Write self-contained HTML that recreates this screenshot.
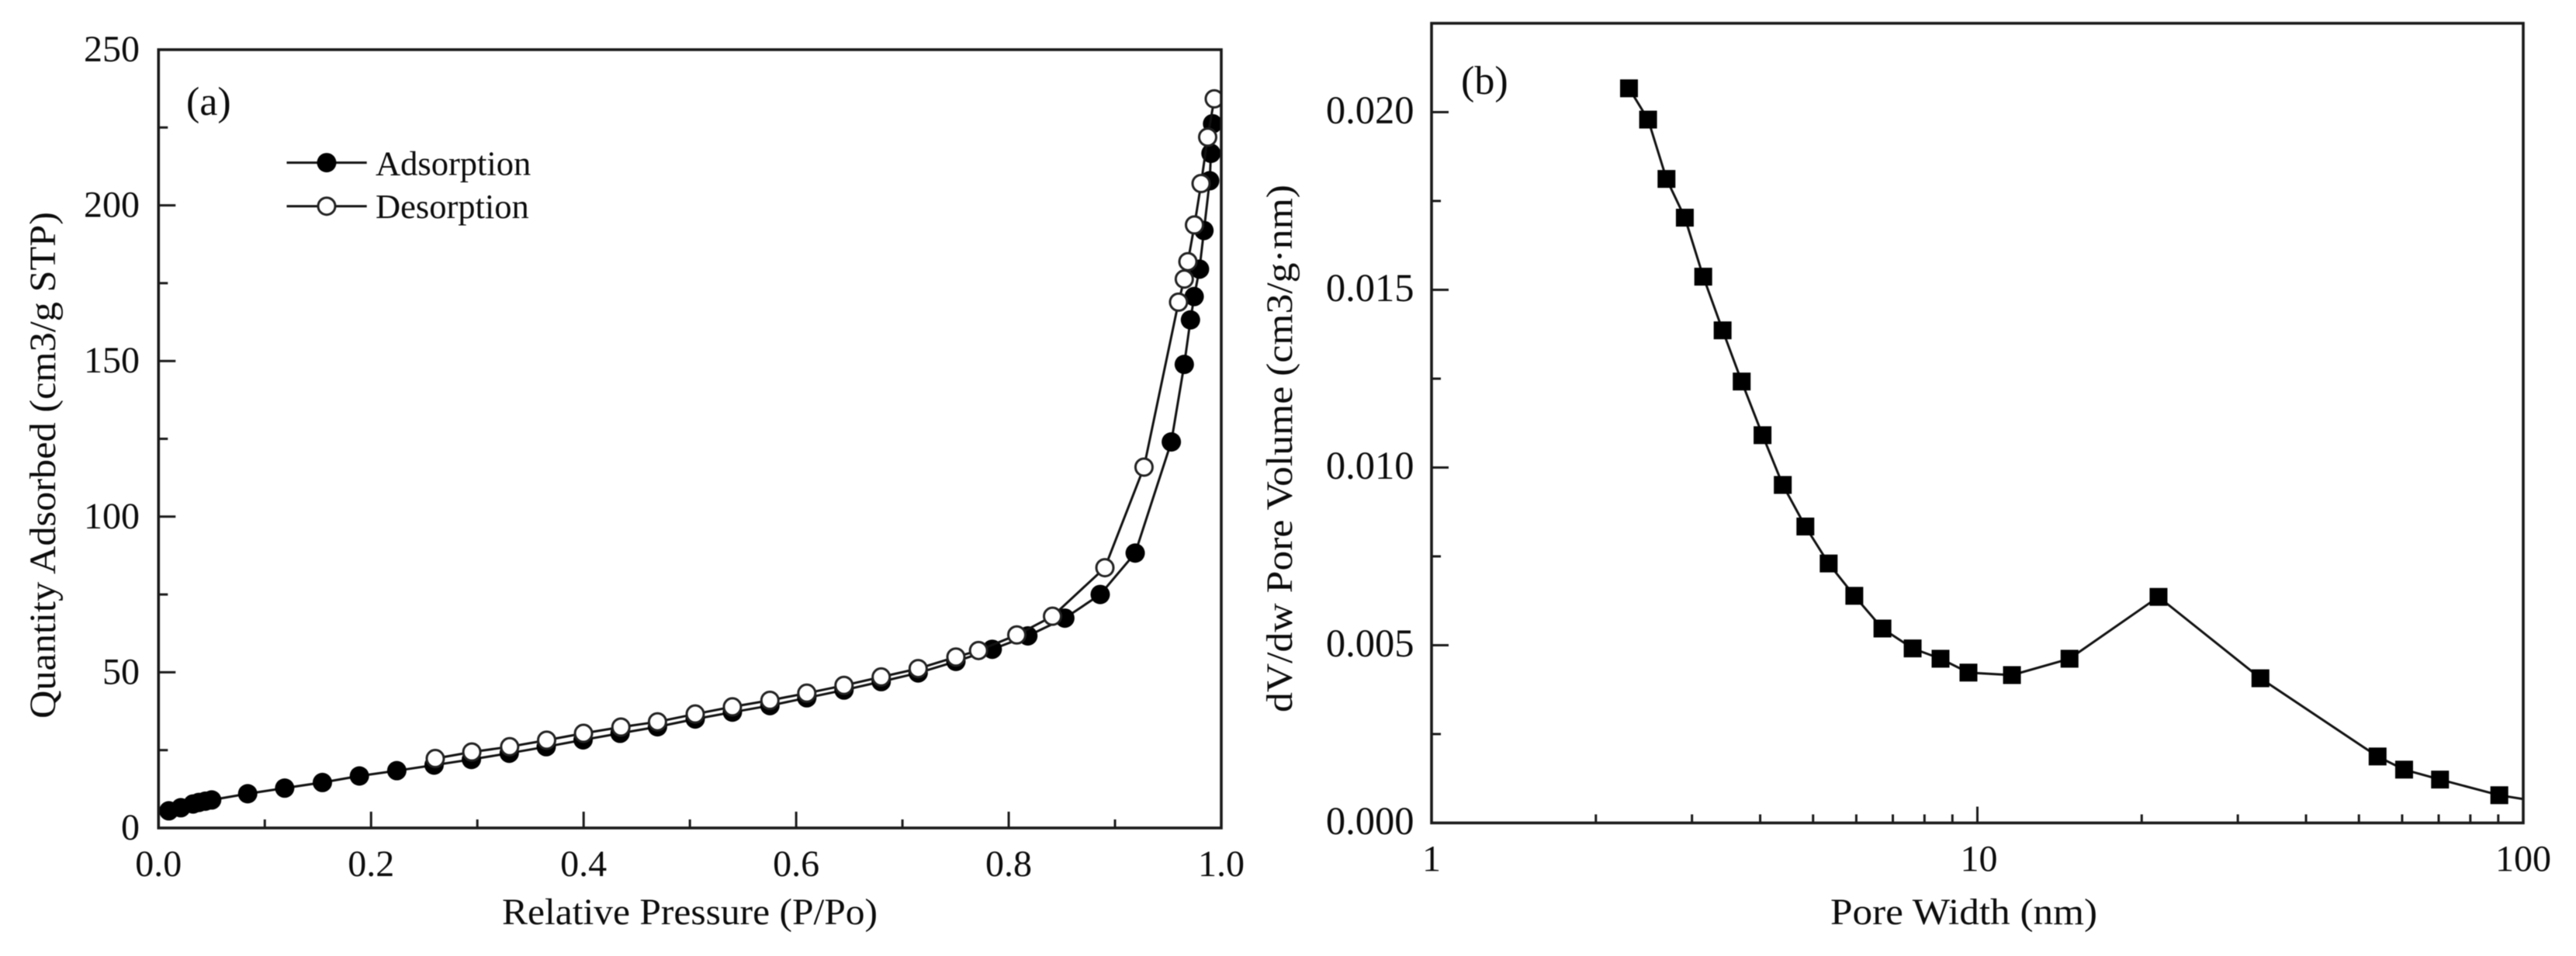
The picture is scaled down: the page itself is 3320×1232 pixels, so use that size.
<!DOCTYPE html>
<html lang="en">
<head>
<meta charset="utf-8">
<title>Isotherm and pore size distribution</title>
<style>
  html, body { margin: 0; padding: 0; background: #fff; }
  svg { display: block; filter: blur(0.6px); }
  text { font-family: "Liberation Serif", serif; fill: #0c0c0c; }
</style>
</head>
<body>
<svg id="fig" xmlns="http://www.w3.org/2000/svg" width="3320" height="1232" viewBox="0 0 3320 1232">
  <defs>
    <clipPath id="clip-a"><rect x="204" y="64" width="1370" height="1003"></rect></clipPath>
    <clipPath id="clip-b"><rect x="1845" y="30" width="1407" height="1031"></rect></clipPath>
  </defs>
  <rect x="0" y="0" width="3320" height="1232" fill="#fff"></rect>

  <g id="panel-a">
    <g id="a-series" clip-path="url(#clip-a)"></g>
    <rect x="204.3" y="64" width="1369.7" height="1003" fill="none" stroke="#1a1a1a" stroke-width="3.6"></rect>
    <g id="a-ticks"></g>
    <text x="240" y="148" font-size="52">(a)</text>
    <text x="889" y="1191" font-size="48" text-anchor="middle" textLength="484" lengthAdjust="spacingAndGlyphs">Relative Pressure (P/Po)</text>
    <text transform="translate(71,599.5) rotate(-90)" font-size="48" text-anchor="middle" textLength="653" lengthAdjust="spacingAndGlyphs">Quantity Adsorbed (cm3/g STP)</text>
    <g>
      <g>
        <line x1="369.5" y1="209.6" x2="472.7" y2="209.6" stroke="#111" stroke-width="3"></line>
        <circle cx="421" cy="209.6" r="12.5" fill="#000"></circle>
        <text x="484" y="225.5" font-size="44.5">Adsorption</text>
      </g>
      <g>
        <line x1="369.5" y1="265.7" x2="472.7" y2="265.7" stroke="#111" stroke-width="3"></line>
        <circle cx="421" cy="265.7" r="11" fill="#fff" stroke="#222" stroke-width="3"></circle>
        <text x="484" y="281" font-size="44.5">Desorption</text>
      </g>
    </g>
  </g>

  <g id="panel-b">
    <g id="b-series" clip-path="url(#clip-b)"></g>
    <rect x="1845" y="30" width="1407" height="1030.5" fill="none" stroke="#1a1a1a" stroke-width="3.6"></rect>
    <g id="b-ticks"></g>
    <text x="1883" y="121" font-size="52">(b)</text>
    <text x="2531" y="1191" font-size="48" text-anchor="middle" textLength="344" lengthAdjust="spacingAndGlyphs">Pore Width (nm)</text>
    <text transform="translate(1665,578) rotate(-90)" font-size="48" text-anchor="middle" textLength="680" lengthAdjust="spacingAndGlyphs">dV/dw Pore Volume (cm3/g·nm)</text>
  </g>
</svg>

<script>
// ---- Panel (a) data ----
const adsPressure = [0.0097,0.021,0.0325,0.038,0.044,0.05,0.0839,0.1187,0.1542,0.189,0.2242,0.2593,0.2944,0.33,0.3648,0.3995,0.4343,0.4695,0.505,0.54,0.5753,0.61,0.645,0.68,0.7148,0.7503,0.7845,0.818,0.8528,0.8861,0.919,0.953,0.9652,0.971,0.9745,0.9795,0.9837,0.9891,0.9903,0.9918];
const adsQuantity = [5.5,6.5,7.7,8.2,8.6,9,11,12.8,14.6,16.7,18.4,20.2,22,24,26.1,28.3,30.4,32.5,35,37.2,39.3,41.8,44.3,47,49.8,53.5,57.4,61.7,67.4,75,88.3,124,148.9,163.2,170.7,179.5,191.9,207.9,216.7,226.2];
const desPressure = [0.2604,0.2948,0.3304,0.3652,0.3999,0.4351,0.4695,0.505,0.54,0.5753,0.61,0.645,0.68,0.7148,0.7503,0.7716,0.8076,0.8412,0.8905,0.9273,0.9598,0.9652,0.9686,0.9748,0.981,0.9872,0.9934];
const desQuantity = [22.3,24.4,26.1,28.2,30.4,32.4,34.1,36.6,38.9,41,43.3,45.8,48.5,51.2,54.9,57,62,68,83.6,115.9,168.9,176.3,181.9,193.7,207,221.9,234.2];
const aXMajor = [0,0.2,0.4,0.6,0.8,1];
const aXMinor = [0.1,0.3,0.5,0.7,0.9];
const aXLabels = ['0.0','0.2','0.4','0.6','0.8','1.0'];
const aYMajor = [0,50,100,150,200,250];
const aYMinor = [25,75,125,175,225];
const aYLabels = ['0','50','100','150','200','250'];

// ---- Panel (b) data ----
const poreWidth = [2.30,2.493,2.694,2.911,3.146,3.414,3.70,4.04,4.40,4.84,5.34,5.95,6.70,7.61,8.56,9.63,11.57,14.75,21.47,33,54.1,60.5,70.4,90.4,112];
const poreVolume = [0.02067,0.01979,0.01812,0.01703,0.01537,0.01386,0.01242,0.01091,0.00951,0.00834,0.0073,0.00639,0.00547,0.00491,0.00462,0.00423,0.00416,0.00462,0.00636,0.00407,0.00187,0.0015,0.00122,0.00078,0.00055];
const bXMajor = [1,10,100];
const bXMinor = [2,3,4,5,6,7,8,9,20,30,40,50,60,70,80,90];
const bXLabels = ['1','10','100'];
const bYMajor = [0,0.005,0.01,0.015,0.02];
const bYMinor = [0.0025,0.0075,0.0125,0.0175,0.0225];
const bYLabels = ['0.000','0.005','0.010','0.015','0.020'];

// ---- Axis functions ----
const xA = p => 204.3 + p * 1369.7;
const yA = q => 1067 - q * 4.012;
const xB = w => 1845 + Math.log10(w) * 703.5;
const yB = v => 1060.5 - v * 45800;

const NS = 'http://www.w3.org/2000/svg';
function make(parent, tag, props) {
  const el = document.createElementNS(NS, tag);
  for (const k in props) el.setAttribute(k, props[k]);
  parent.appendChild(el);
  return el;
}

function drawTicks(group, xs, ys, x0, y0, x, y, majorLen, minorLen, isMajor, axisName) {
  xs.forEach(function (t) {
    const len = isMajor ? 21 : 11;
    const el = make(group, 'line', { x1: x(t), x2: x(t), y1: y0, y2: y0 - len, stroke: '#1a1a1a', 'stroke-width': 3 });
    
    
  });
  ys.forEach(function (t) {
    const len = isMajor ? majorLen : minorLen;
    const el = make(group, 'line', { x1: x0, x2: x0 + len, y1: y(t), y2: y(t), stroke: '#1a1a1a', 'stroke-width': 3 });
    
    
  });
}

function drawLabels(group, values, labels, posX, posY, anchor, size, axisName) {
  values.forEach(function (t, i) {
    const el = make(group, 'text', { x: posX(t), y: posY(t), 'text-anchor': anchor, 'font-size': size });
    el.textContent = labels[i];
    
    
  });
}

function drawLine(group, xVals, yVals, x, y, name) {
  const pts = xVals.map(function (v, i) { return x(v).toFixed(1) + ',' + y(yVals[i]).toFixed(1); }).join(' ');
  const el = make(group, 'polyline', { points: pts, fill: 'none', stroke: '#111', 'stroke-width': 3, 'stroke-linejoin': 'round' });
  
  
}

// ---- Panel (a) ----
const aTicks = document.getElementById('a-ticks');
drawTicks(aTicks, aXMajor, aYMajor, 204.3, 1067, xA, yA, 22, 12, true, 'a');
drawTicks(aTicks, aXMinor, aYMinor, 204.3, 1067, xA, yA, 22, 12, false, 'a');
drawLabels(aTicks, aXMajor, aXLabels, xA, function () { return 1129; }, 'middle', 48, 'a-x');
drawLabels(aTicks, aYMajor, aYLabels, function () { return 180; }, function (t) { return yA(t) + 15; }, 'end', 48, 'a-y');

const aSeries = document.getElementById('a-series');
drawLine(aSeries, adsPressure, adsQuantity, xA, yA, 'adsorption-line');
adsPressure.forEach(function (p, i) {
  const el = make(aSeries, 'circle', { cx: xA(p), cy: yA(adsQuantity[i]), r: 12.5, fill: '#000' });
  
  
});
drawLine(aSeries, desPressure, desQuantity, xA, yA, 'desorption-line');
desPressure.forEach(function (p, i) {
  const el = make(aSeries, 'circle', { cx: xA(p), cy: yA(desQuantity[i]), r: 11, fill: '#fff', stroke: '#222', 'stroke-width': 3 });
  
  
});

// ---- Panel (b) ----
const bTicks = document.getElementById('b-ticks');
drawTicks(bTicks, bXMajor, bYMajor, 1845, 1060.5, xB, yB, 22, 12, true, 'b');
drawTicks(bTicks, bXMinor, bYMinor, 1845, 1060.5, xB, yB, 22, 12, false, 'b');
drawLabels(bTicks, bXMajor, bXLabels, function (t) { return xB(t) + (t === 10 ? 2 : 0); }, function () { return 1122.5; }, 'middle', 48, 'b-x');
drawLabels(bTicks, bYMajor, bYLabels, function () { return 1822.5; }, function (t) { return yB(t) + 14.5; }, 'end', 50.5, 'b-y');

const bSeries = document.getElementById('b-series');
drawLine(bSeries, poreWidth, poreVolume, xB, yB, 'pore-volume-line');
poreWidth.forEach(function (w, i) {
  const el = make(bSeries, 'rect', { x: xB(w) - 11.5, y: yB(poreVolume[i]) - 11.5, width: 23, height: 23, fill: '#000' });
  
  
});
</script>
</body>
</html>
